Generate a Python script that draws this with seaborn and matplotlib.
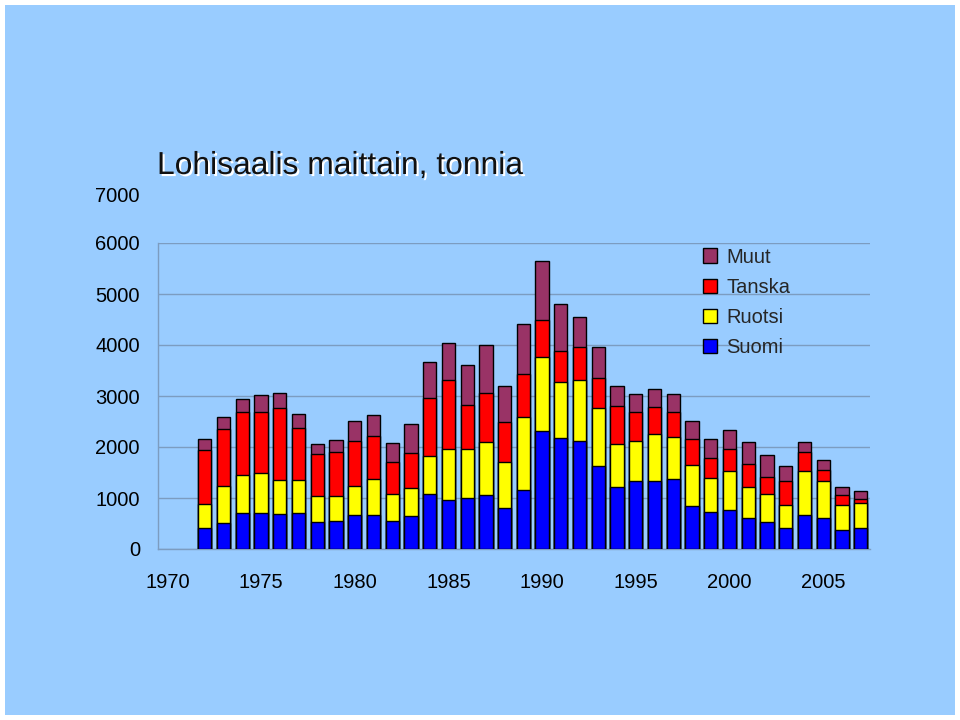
import matplotlib
matplotlib.use("Agg")
import matplotlib.pyplot as plt
import matplotlib.patheffects as pe
from matplotlib.patches import Patch
import matplotlib.transforms as mtransforms
import numpy as np
import seaborn as sns

# ----------------------------------------------------------------------------------
# Data (tonnes)
years = list(range(1972, 2008))
all_years = list(range(1970, 2008))   # 1970-1971 are empty categories

suomi = [406, 517, 700, 700, 681, 700, 537, 556, 668, 668, 556, 654,
         1073, 962, 1008, 1060, 798, 1165, 2317, 2173, 2120, 1623, 1217, 1329,
         1329, 1374, 851, 720, 759, 615, 524, 412, 668, 609, 373, 412]
ruotsi = [478, 713, 753, 792, 680, 661, 510, 491, 562, 700, 530, 550,
          746, 1008, 962, 1041, 917, 1414, 1440, 1099, 1192, 1132, 851, 791,
          935, 818, 805, 681, 772, 602, 562, 452, 863, 733, 491, 498]
tanska = [1053, 1126, 1230, 1204, 1401, 1021, 812, 851, 890, 844, 616, 674,
          1146, 1348, 851, 955, 772, 844, 739, 615, 647, 596, 727, 557,
          517, 485, 497, 392, 426, 445, 334, 471, 367, 209, 190, 72]
muut = [223, 242, 255, 314, 294, 262, 196, 242, 393, 412, 373, 576,
        706, 720, 792, 943, 707, 981, 1145, 923, 589, 615, 399, 366,
        354, 366, 360, 367, 386, 432, 426, 288, 196, 190, 170, 150]

series_names = ["Suomi", "Ruotsi", "Tanska", "Muut"]
series_colors = ["#0000FF", "#FFFF00", "#FF0000", "#993366"]
x_labels = ["1970", "1975", "1980", "1985", "1990", "1995", "2000", "2005"]
y_ticks = [0, 1000, 2000, 3000, 4000, 5000, 6000]

# ----------------------------------------------------------------------------------
# Plot
BG = "#99CCFF"
sns.set_theme(style="white")
plt.rcParams["font.family"] = ["Liberation Sans", "DejaVu Sans"]

fig = plt.figure(figsize=(9.6, 7.2), dpi=100)
fig.patch.set_facecolor(BG)
fig.patch.set_edgecolor("white")
fig.patch.set_linewidth(6)
ax = fig.add_axes([158 / 960, 1 - 549 / 720, 712 / 960, 306 / 720])
ax.set_facecolor(BG)

stack = np.array([suomi, ruotsi, tanska, muut])
cum = np.cumsum(stack, axis=0)
# draw from the tallest layer down so each segment shows
for i in range(3, -1, -1):
    sns.barplot(
        x=years,
        y=cum[i],
        order=all_years,
        color=series_colors[i],
        saturation=1,
        edgecolor="black",
        linewidth=1,
        width=0.71,
        errorbar=None,
        ax=ax,
        zorder=3
    )

ax.set_xlim(-0.5, len(all_years) - 0.5)
ax.set_ylim(0, 6000)
ax.set_yticks(y_ticks)
ax.set_yticklabels([str(v) for v in y_ticks])
ax.set_xticks([all_years.index(int(l)) for l in x_labels])
ax.set_xticklabels(x_labels)
ax.tick_params(axis="x", length=0, pad=17, labelsize=14.5, colors="black")
ax.tick_params(axis="y", length=0, pad=13, labelsize=14.5, colors="black")
ax.grid(axis="y", color="#7c9cc0", linewidth=1, zorder=0)
ax.set_axisbelow(True)
ax.set_xlabel("")
ax.set_ylabel("")
for s in ["top", "right"]:
    ax.spines[s].set_visible(False)
for s in ["left", "bottom"]:
    ax.spines[s].set_color("#7c9cc0")
    ax.spines[s].set_linewidth(1)

# the 7000 label sits above the plot area
trans = mtransforms.blended_transform_factory(fig.transFigure, ax.transData)
ax.text(140 / 960, 6920, "7000", transform=trans, ha="right", va="center",
        fontsize=14.5, color="black", clip_on=False)

fig.text(157 / 960, 1 - 166 / 720, "Lohisaalis maittain, tonnia",
         fontsize=22.9, color="#111111", ha="left", va="center",
         path_effects=[pe.withSimplePatchShadow(offset=(1.5, -1.5),
                                                shadow_rgbFace="white", alpha=1)])

handles = [Patch(facecolor=c, edgecolor="black", linewidth=1)
           for c in series_colors][::-1]
ax.legend(handles, series_names[::-1], loc="upper left",
          bbox_to_anchor=((703 - 158) / 712, 0.985), frameon=False,
          fontsize=14.5, handlelength=0.7, handleheight=0.7,
          handletextpad=0.45, labelspacing=0.56, borderpad=0, borderaxespad=0)

plt.savefig("out.png", dpi=100, facecolor=fig.get_facecolor(),
            edgecolor=fig.get_edgecolor())
